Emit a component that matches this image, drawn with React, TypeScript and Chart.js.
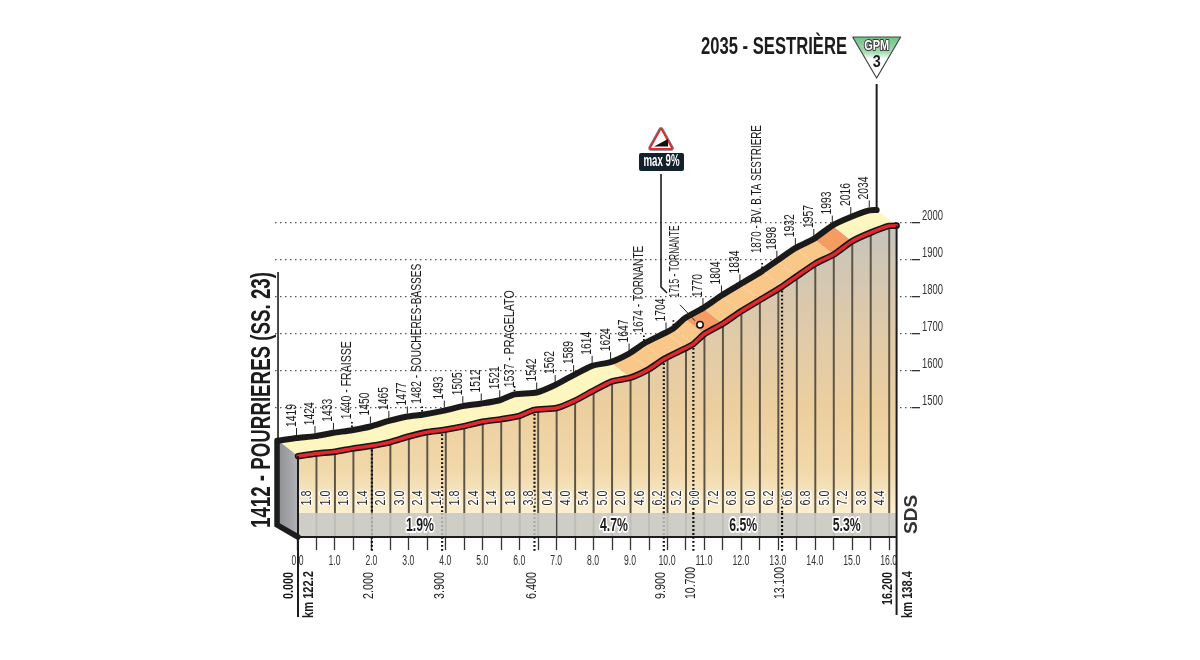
import { useEffect, useRef } from 'react';
import { Chart, registerables } from 'chart.js';

Chart.register(...registerables);

// Road profile as printed above the black line
const PROFILE_KM = [
  0, 0.5, 1, 1.5, 2, 2.5, 3, 3.5, 3.9, 4.5, 5, 5.5, 6, 6.4, 7, 7.5, 8, 8.5, 9, 9.5, 9.9, 10.5, 10.7, 11, 11.5, 12,
  12.5, 13.1, 13.5, 14, 14.5, 15, 15.5, 16, 16.2,
];
const PROFILE_ELEVATION = [
  1412, 1419, 1424, 1433, 1440, 1450, 1465, 1477, 1482, 1493, 1505, 1512, 1521, 1537, 1542, 1562, 1589, 1614, 1624,
  1647, 1674, 1704, 1715, 1742, 1770, 1804, 1834, 1870, 1898, 1932, 1957, 1993, 2016, 2034, 2035,
];
// km values whose height is not printed, or is printed as the start/finish title
const UNLABELLED_KM = [0, 11, 16.2];
const PLACE_NAMES: Record<number, string> = {
  2: 'FRAISSE',
  3.9: 'SOUCHERES-BASSES',
  6.4: 'PRAGELATO',
  9.9: 'TORNANTE',
  10.7: 'TORNANTE',
  13.1: 'BV. B.TA SESTRIERE',
};

// Half-kilometre columns under the red line
const COLUMN_KM = [
  0, 0.5, 1, 1.5, 2, 2.5, 3, 3.5, 4, 4.5, 5, 5.5, 6, 6.5, 7, 7.5, 8, 8.5, 9, 9.5, 10, 10.5, 11, 11.5, 12, 12.5, 13,
  13.5, 14, 14.5, 15, 15.5, 16,
];
const COLUMN_ELEVATION = [
  1412, 1419, 1424, 1433, 1440, 1450, 1465, 1477, 1484, 1493, 1505, 1512, 1521, 1538, 1542, 1562, 1589, 1614, 1624,
  1647, 1680, 1704, 1742, 1770, 1804, 1834, 1864, 1898, 1932, 1957, 1993, 2016, 2034,
];
const CELL_GRADIENT = [
  '1.8', '1.0', '1.8', '1.4', '2.0', '3.0', '2.4', '1.4', '1.8', '2.4', '1.4', '1.8', '3.8', '0.4', '4.0', '5.4',
  '5.0', '2.0', '4.6', '6.2', '5.2', '6.0', '7.2', '6.8', '6.0', '6.2', '6.6', '6.8', '5.0', '7.2', '3.8', '4.4',
];

const WAYPOINT_KM = [2, 3.9, 6.4, 9.9, 10.7, 13.1];
const GRID_ELEVATIONS = [1500, 1600, 1700, 1800, 1900, 2000];
const SECTION_KM = [3.3, 8.55, 12.05, 14.85];
const SECTION_GRADIENT = ['1.9%', '4.7%', '6.5%', '5.3%'];

const START_KM = 0;
const END_KM = 16.2;
const MAX_GRADE_KM = 10.88;
const MAX_GRADE_ELEVATION = 1725;

// scale ranges; 36.95px per km and 0.37px per metre
const KM_MIN = -0.622;
const KM_MAX = 16.617;
const ELEV_MIN = 1151.4;
const ELEV_MAX = 2602.7;
const BAND_TOP = 1216;

// the drawing is a 3D strip: black edge set back, red edge dropped
const TOP_SHIFT_KM = 0.54;
const RED_DROP = 42;

const NARROW = '"Liberation Sans", sans-serif';
const INK = '#1c1c1c';

// printed length of the place-name labels, in px
const NAME_LENGTH: Record<number, number> = { 2: 78, 3.9: 140, 6.4: 97, 9.9: 87, 10.7: 72, 13.1: 128 };

function tintFor(km: number) {
  if (km >= 15) return '#fdf6bf';
  if (km >= 14.5) return '#f49c62';
  if (km >= 11.5) return '#f9c888';
  if (km >= 11) return '#f49c62';
  if (km >= 9) return '#f9c888';
  return '#fdf6bf';
}

type TextOpts = { align?: CanvasTextAlign; halo?: number; maxLen?: number };

function upText(ctx: CanvasRenderingContext2D, text: string, x: number, y: number, font: string, color: string, opts: TextOpts = {}) {
  ctx.save();
  ctx.translate(x, y);
  ctx.rotate(-Math.PI / 2);
  flatText(ctx, text, 0, 0, font, color, opts);
  ctx.restore();
}

function flatText(ctx: CanvasRenderingContext2D, text: string, x: number, y: number, font: string, color: string, opts: TextOpts = {}) {
  ctx.font = font;
  ctx.textAlign = opts.align || 'left';
  ctx.textBaseline = 'middle';
  if (opts.halo) {
    ctx.strokeStyle = '#fff';
    ctx.lineWidth = opts.halo;
    ctx.lineJoin = 'round';
    ctx.strokeText(text, x, y, opts.maxLen);
  }
  ctx.fillStyle = color;
  ctx.fillText(text, x, y, opts.maxLen);
}

function segment(ctx: CanvasRenderingContext2D, points: number[][], color: string, width: number, dash: number[] = [], cap: CanvasLineCap = 'butt') {
  ctx.save();
  ctx.beginPath();
  points.forEach(([x, y], i) => (i ? ctx.lineTo(x, y) : ctx.moveTo(x, y)));
  ctx.strokeStyle = color;
  ctx.lineWidth = width;
  ctx.setLineDash(dash);
  ctx.lineCap = cap;
  ctx.stroke();
  ctx.restore();
}

function polygon(ctx: CanvasRenderingContext2D, points: number[][], fill: string | CanvasGradient) {
  ctx.beginPath();
  points.forEach(([x, y], i) => (i ? ctx.lineTo(x, y) : ctx.moveTo(x, y)));
  ctx.closePath();
  ctx.fillStyle = fill;
  ctx.fill();
}

const profilePlugin = {
  id: 'profile',
  beforeDatasetsDraw(chart: Chart) {
    const { ctx, scales } = chart;
    const { x, y } = scales;
    const topX = (km: number) => x.getPixelForValue(km - TOP_SHIFT_KM);
    const topY = (h: number) => y.getPixelForValue(h);
    const redX = (km: number) => x.getPixelForValue(km);
    const redY = (h: number) => y.getPixelForValue(h - RED_DROP);

    // strip between the black and the red line, one piece per profile step
    for (let i = 0; i < PROFILE_KM.length - 1; i++) {
      const a = PROFILE_KM[i];
      const b = PROFILE_KM[i + 1];
      const color = tintFor((a + b) / 2);
      polygon(ctx, [
        [topX(a), topY(PROFILE_ELEVATION[i])],
        [topX(b), topY(PROFILE_ELEVATION[i + 1])],
        [redX(b), redY(PROFILE_ELEVATION[i + 1])],
        [redX(a), redY(PROFILE_ELEVATION[i])],
      ], color);
    }

    // left wall of the strip
    const wallTop = topX(START_KM);
    const baseY = y.getPixelForValue(ELEV_MIN);
    const wallFill = ctx.createLinearGradient(wallTop, 0, redX(START_KM), 0);
    wallFill.addColorStop(0, '#8f9094');
    wallFill.addColorStop(1, '#b2b3b6');
    polygon(ctx, [
      [wallTop, topY(PROFILE_ELEVATION[0])],
      [redX(START_KM), redY(PROFILE_ELEVATION[0])],
      [redX(START_KM), baseY],
      [wallTop, baseY - 12],
    ], wallFill);
  },
  afterDatasetsDraw(chart: Chart) {
    const { ctx, scales } = chart;
    const { x, y } = scales;
    const topX = (km: number) => x.getPixelForValue(km - TOP_SHIFT_KM);
    const topY = (h: number) => y.getPixelForValue(h);
    const redX = (km: number) => x.getPixelForValue(km);
    const redY = (h: number) => y.getPixelForValue(h - RED_DROP);
    const baseY = y.getPixelForValue(ELEV_MIN);
    const bandY = y.getPixelForValue(BAND_TOP);
    const startX = redX(START_KM);
    const endX = redX(END_KM);
    const wallX = topX(START_KM);

    // axis numbers, condensed to the printed width
    x.ticks.forEach((t: any) => {
      if (t.value % 1 !== 0) return;
      flatText(ctx, t.value.toFixed(1), x.getPixelForValue(t.value) - 0.5, 561, `14px ${NARROW}`, '#333', {
        align: 'center',
        maxLen: t.value >= 10 ? 17 : 12,
      });
    });
    y.ticks.forEach((t: any) => {
      flatText(ctx, String(t.value), 922, y.getPixelForValue(t.value) - 7, `14.5px ${NARROW}`, '#333', { maxLen: 21 });
    });

    // wall outline
    const wallTopY = topY(PROFILE_ELEVATION[0]);
    segment(ctx, [[wallX - 1, wallTopY], [wallX - 1, baseY - 12], [startX, baseY]], INK, 5.5, [], 'round');
    segment(ctx, [[wallX, 272], [wallX, wallTopY]], INK, 1.6);

    // start and finish verticals
    segment(ctx, [[startX, redY(PROFILE_ELEVATION[0])], [startX, 617]], INK, 2);
    segment(ctx, [[endX, redY(PROFILE_ELEVATION[PROFILE_ELEVATION.length - 1])], [endX, 615]], INK, 2);

    // section boundary that stays solid through the band
    segment(ctx, [[redX(7), bandY], [redX(7), baseY]], '#444', 1.3);

    // waypoints: dotted from the red line to the ticks
    WAYPOINT_KM.forEach((km) => {
      const wx = redX(km);
      const i = PROFILE_KM.indexOf(km);
      const dots = [1.8, 2.2];
      const inBand = km < 10 ? '#a9aaa8' : '#111';
      segment(ctx, [[wx, redY(PROFILE_ELEVATION[i]) + 4], [wx, bandY]], '#111', 2.2, dots);
      segment(ctx, [[wx, bandY], [wx, baseY]], inBand, 2.2, dots);
      segment(ctx, [[wx, baseY], [wx, baseY + 14]], '#111', 2.2, dots);
      upText(ctx, km.toFixed(3), wx - 2.5, 599, `14.5px ${NARROW}`, INK, { maxLen: km >= 10 ? 32 : 27 });
    });

    // cell gradients and section averages
    CELL_GRADIENT.forEach((value, i) => {
      const cx = redX((COLUMN_KM[i] + COLUMN_KM[i + 1]) / 2);
      upText(ctx, value, cx, 498, `15px ${NARROW}`, '#2a2a2a', { align: 'center', halo: 3, maxLen: 15 });
    });
    SECTION_GRADIENT.forEach((value, i) => {
      flatText(ctx, value, redX(SECTION_KM[i]), 526, `bold 19px ${NARROW}`, INK, { align: 'center', halo: 4, maxLen: 28 });
    });

    // heights above the black line
    PROFILE_KM.forEach((km, i) => {
      if (UNLABELLED_KM.includes(km)) return;
      const px = topX(km);
      const py = topY(PROFILE_ELEVATION[i]);
      const named = PLACE_NAMES[km];
      const lift = km === 10.7 ? 31 : km === 13.1 ? 18 : km === 6.4 ? 7 : 11;
      const nudge = km === 10.7 ? 2 : -5;
      if (named) segment(ctx, [[px, py - 3], [px, py - 10]], '#111', 1.8, [1.6, 2]);
      else segment(ctx, [[px, py - 3], [px, py - 10]], '#222', 1);
      const text = named ? `${PROFILE_ELEVATION[i]} - ${named}` : String(PROFILE_ELEVATION[i]);
      upText(ctx, text, px + nudge, py - lift, `14.5px ${NARROW}`, INK, { maxLen: named ? NAME_LENGTH[km] : 23 });
    });

    // long labels
    upText(ctx, '1412 - POURRIERES (SS. 23)', 263, 528, `bold 27px ${NARROW}`, INK, { maxLen: 256 });
    flatText(ctx, '2035 - SESTRIÈRE', 701, 47, `bold 24px ${NARROW}`, INK, { maxLen: 146 });
    upText(ctx, (START_KM).toFixed(3), startX - 9, 599, `bold 15px ${NARROW}`, INK, { maxLen: 27 });
    upText(ctx, 'km 122.2', startX + 11, 618, `bold 15.5px ${NARROW}`, INK, { maxLen: 47 });
    upText(ctx, END_KM.toFixed(3), endX - 9, 605, `bold 15px ${NARROW}`, INK, { maxLen: 33 });
    upText(ctx, 'km 138.4', endX + 11, 618, `bold 15.5px ${NARROW}`, INK, { maxLen: 47 });
    upText(ctx, 'SDS', 912, 534, `bold 19px ${NARROW}`, '#333', { maxLen: 40 });

    // GPM sign and its pole
    const summitX = topX(END_KM);
    segment(ctx, [[summitX, 84], [summitX, topY(PROFILE_ELEVATION[PROFILE_ELEVATION.length - 1])]], INK, 2);
    const signTop = 37;
    const signFill = ctx.createLinearGradient(0, signTop, 0, signTop + 22);
    signFill.addColorStop(0, '#6cc480');
    signFill.addColorStop(0.7, '#a5dcb0');
    signFill.addColorStop(1, '#ffffff');
    const gpm = [[summitX - 24, signTop], [summitX + 24, signTop], [summitX, signTop + 41]];
    polygon(ctx, gpm, signFill);
    segment(ctx, [...gpm, gpm[0]], '#444', 1.2);
    ctx.save();
    ctx.font = `bold 14px ${NARROW}`;
    ctx.textAlign = 'center';
    ctx.textBaseline = 'middle';
    ctx.lineWidth = 2.2;
    ctx.lineJoin = 'round';
    ctx.strokeStyle = '#3a3a3a';
    ctx.strokeText('GPM', summitX, 46, 25);
    ctx.fillStyle = '#fff';
    ctx.fillText('GPM', summitX, 46, 25);
    ctx.restore();
    flatText(ctx, '3', summitX, 62, `bold 17px ${NARROW}`, INK, { align: 'center', maxLen: 8 });

    // steepest point marker and its warning sign
    const cx = x.getPixelForValue(MAX_GRADE_KM);
    const cy = y.getPixelForValue(MAX_GRADE_ELEVATION);
    segment(ctx, [[cx - 20, cy - 20], [cx - 5, cy - 4]], '#222', 1);
    ctx.beginPath();
    ctx.arc(cx, cy, 3.2, 0, Math.PI * 2);
    ctx.fillStyle = '#fff';
    ctx.fill();
    ctx.strokeStyle = '#111';
    ctx.lineWidth = 1.5;
    ctx.stroke();

    const sx = cx - 39;
    segment(ctx, [[sx, 174], [sx, 287], [sx + 6, 293]], INK, 1.6);
    ctx.save();
    ctx.lineJoin = 'round';
    const warn = [[sx, 130], [sx + 10, 148], [sx - 10, 148]];
    ctx.beginPath();
    warn.forEach(([wx, wy], i) => (i ? ctx.lineTo(wx, wy) : ctx.moveTo(wx, wy)));
    ctx.closePath();
    ctx.strokeStyle = '#777';
    ctx.lineWidth = 5.5;
    ctx.stroke();
    ctx.strokeStyle = '#e4252b';
    ctx.lineWidth = 3.5;
    ctx.stroke();
    ctx.fillStyle = '#fff';
    ctx.fill();
    polygon(ctx, [[sx - 7, 146.5], [sx + 7, 146.5], [sx + 7, 139]], '#111');
    ctx.restore();
    ctx.fillStyle = '#13222a';
    ctx.beginPath();
    ctx.roundRect(sx - 22, 153, 45, 18, 2);
    ctx.fill();
    flatText(ctx, 'max 9%', sx + 0.5, 162, `bold 16px ${NARROW}`, '#fff', { align: 'center', maxLen: 36 });
  },
};

export default function App() {
  const chartRef = useRef<HTMLCanvasElement>(null);

  useEffect(() => {
    document.body.style.margin = '0';
    if (!chartRef.current) return;
    const ctx = chartRef.current.getContext('2d');
    if (!ctx) return;

    const columnFill = ctx.createLinearGradient(0, 225, 0, 513);
    columnFill.addColorStop(0, '#c6c4bc');
    columnFill.addColorStop(0.3, '#dcc9ac');
    columnFill.addColorStop(0.65, '#edcf9f');
    columnFill.addColorStop(0.85, '#f1d8aa');
    columnFill.addColorStop(1, '#fcefcf');

    const redLine = PROFILE_KM.map((km, i) => ({ x: km, y: PROFILE_ELEVATION[i] - RED_DROP }));
    const blackLine = PROFILE_KM.map((km, i) => ({ x: km - TOP_SHIFT_KM, y: PROFILE_ELEVATION[i] }));

    const chart = new Chart(ctx, {
      type: 'line',
      data: {
        datasets: [
          {
            // area under the red line
            data: redLine,
            fill: 'start',
            backgroundColor: columnFill,
            borderWidth: 0,
            pointRadius: 0,
            tension: 0.2,
            order: 10,
          },
          {
            type: 'bar',
            data: COLUMN_KM.map((km, i) => ({ x: km, y: [ELEV_MIN, COLUMN_ELEVATION[i] - RED_DROP] })),
            backgroundColor: '#5a5346',
            barThickness: 1.3,
            order: 9,
          },
          {
            // gradient band along the foot
            data: [{ x: START_KM, y: BAND_TOP }, { x: END_KM, y: BAND_TOP }],
            fill: 'start',
            backgroundColor: 'rgba(201, 202, 196, 0.9)',
            borderWidth: 0,
            pointRadius: 0,
            order: 8,
          },
          {
            // base line
            data: [{ x: START_KM, y: ELEV_MIN }, { x: END_KM, y: ELEV_MIN }],
            borderColor: INK,
            borderWidth: 2.2,
            pointRadius: 0,
            clip: false,
            order: 7,
          },
          {
            data: redLine,
            borderColor: '#151515',
            borderWidth: 6.5,
            borderCapStyle: 'round',
            pointRadius: 0,
            tension: 0.2,
            order: 3,
          },
          {
            data: redLine,
            borderColor: '#e6262c',
            borderWidth: 3.4,
            borderCapStyle: 'round',
            pointRadius: 0,
            tension: 0.2,
            order: 2,
          },
          {
            data: blackLine,
            borderColor: '#1a1a1a',
            borderWidth: 6,
            borderCapStyle: 'round',
            pointRadius: 0,
            tension: 0.2,
            order: 1,
          },
        ],
      },
      options: {
        responsive: false,
        animation: false,
        events: [],
        layout: { padding: { left: 275 } },
        plugins: { legend: { display: false }, tooltip: { enabled: false } },
        scales: {
          x: {
            type: 'linear',
            offset: false,
            min: KM_MIN,
            max: KM_MAX,
            afterBuildTicks: (scale) => {
              scale.ticks = COLUMN_KM.map((value) => ({ value }));
            },
            afterFit: (scale) => {
              scale.height = 123;
              scale.paddingLeft = 0;
              scale.paddingRight = 0;
            },
            border: { display: false },
            grid: { offset: false, drawOnChartArea: false, tickLength: 13, tickColor: '#333', tickWidth: 1.3 },
            ticks: { display: false },
          },
          y: {
            type: 'linear',
            position: 'right',
            min: ELEV_MIN,
            max: ELEV_MAX,
            afterBuildTicks: (scale) => {
              scale.ticks = GRID_ELEVATIONS.map((value) => ({ value }));
            },
            afterFit: (scale) => {
              scale.width = 288;
              scale.paddingTop = 0;
              scale.paddingBottom = 0;
            },
            border: { display: false, dash: [1.5, 3.5] },
            grid: {
              color: '#555',
              lineWidth: 1.3,
              tickLength: 8,
              tickColor: '#333',
              tickWidth: 1.3,
              tickBorderDash: [],
            },
            ticks: { display: false },
          },
        },
      },
      plugins: [profilePlugin],
    } as any);

    return () => {
      chart.destroy();
    };
  }, []);

  return (
    <div style={{ position: 'absolute', left: 0, top: 0, width: 1200, height: 660, background: '#fff' }}>
      <canvas ref={chartRef} width={1200} height={660} style={{ display: 'block' }} />
    </div>
  );
}
